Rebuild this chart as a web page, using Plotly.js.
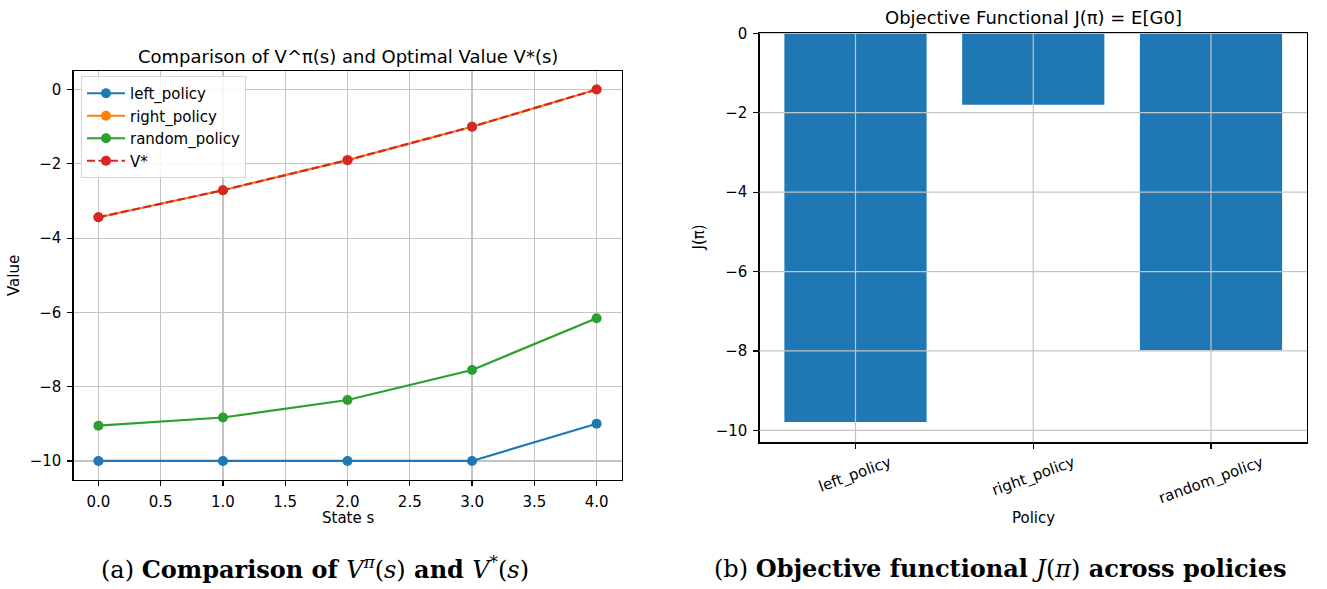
<!DOCTYPE html>
<html>
<head>
<meta charset="utf-8">
<script src="https://cdn.plot.ly/plotly-3.0.1.min.js"></script>
<style>html,body{margin:0;padding:0;background:#fff;}#chart{width:1327px;height:589px;}</style>
</head>
<body>
<div id="chart"></div>
<script>
// ---- data ----
const states = [0, 1, 2, 3, 4];
const leftPolicy = [-10, -10, -10, -10, -9];
const rightPolicy = [-3.439, -2.71, -1.9, -1.0, 0.0];
const randomPolicy = [-9.05, -8.83, -8.36, -7.55, -6.16];
const vStar = [-3.439, -2.71, -1.9, -1.0, 0.0];
const policies = ['left_policy', 'right_policy', 'random_policy'];
const jValues = [-9.79, -1.80, -7.98];
const xTicksLeft = [0, 0.5, 1, 1.5, 2, 2.5, 3, 3.5, 4];
const yTicksLeft = [-10, -8, -6, -4, -2, 0];
const yTicksRight = [-10, -8, -6, -4, -2, 0];

// ---- helpers ----
const W = 1327, H = 589;
const px = v => v / W;
const py = v => 1 - v / H;
const FONT = 'DejaVu Sans';
const base = {family: FONT, size: 15, color: '#000'};
const GRID = '#c4c4c4';

function lineTrace(y, name, color, dash) {
  return {
    x: states, y: y, name: name, type: 'scatter', mode: 'lines+markers',
    xaxis: 'x', yaxis: 'y',
    line: {color: color, width: 2.2, dash: dash || 'solid'},
    marker: {color: color, size: 10, line: {width: 0}}
  };
}

const traces = [
  lineTrace(leftPolicy, 'left_policy', '#1f77b4'),
  lineTrace(rightPolicy, 'right_policy', '#ff7f0e'),
  lineTrace(randomPolicy, 'random_policy', '#2ca02c'),
  lineTrace(vStar, 'V*', '#d62728', '8px,3.5px'),
  {
    x: policies, y: jValues, type: 'bar', xaxis: 'x2', yaxis: 'y2',
    width: 0.8, marker: {color: '#1f77b4', line: {width: 0}}, showlegend: false
  }
];

const axCommon = {
  showline: true, linecolor: '#000', linewidth: 1.2, mirror: true,
  ticks: 'outside', ticklen: 5, tickwidth: 1.2, tickcolor: '#000',
  zeroline: false, tickfont: base, automargin: false, fixedrange: true
};

const shapes = [];
yTicksRight.forEach(v => shapes.push({
  type: 'line', xref: 'x2 domain', yref: 'y2', x0: 0, x1: 1, y0: v, y1: v,
  line: {color: GRID, width: 1.2}, layer: 'above'
}));
policies.forEach(p => shapes.push({
  type: 'line', xref: 'x2', yref: 'y2 domain', x0: p, x1: p, y0: 0, y1: 1,
  line: {color: GRID, width: 1.2}, layer: 'above'
}));

const annotations = [
  {text: 'Comparison of V^π(s) and Optimal Value V*(s)', x: px(347.5), y: py(56)},
  {text: 'Objective Functional J(π) = E[G0]', x: px(1033), y: py(17)},
].map(a => Object.assign({xref: 'paper', yref: 'paper', showarrow: false, xanchor: 'center', yanchor: 'middle', font: {family: FONT, size: 18, color: '#000'}}, a));

[
  {text: 'State s', x: px(347.5), y: py(518)},
  {text: 'Value', x: px(14), y: py(275), textangle: -90},
  {text: 'Policy', x: px(1033), y: py(518)},
  {text: 'J(π)', x: px(698.5), y: py(238), textangle: -90}
].forEach(a => annotations.push(Object.assign({xref: 'paper', yref: 'paper', showarrow: false, xanchor: 'center', yanchor: 'middle', font: base}, a)));

policies.forEach(p => annotations.push({
  text: p, xref: 'x2', yref: 'paper', x: p, y: py(451), xanchor: 'center', yanchor: 'top',
  textangle: -20, showarrow: false, font: base, borderpad: 0
}));

const capFont = {family: 'DejaVu Serif', size: 24, color: '#000'};
annotations.push({
  text: '(a) <b>Comparison of </b><i>V</i><sup><i>π</i></sup>(<i>s</i>)<b> and </b><i>V</i><sup>*</sup>(<i>s</i>)',
  xref: 'paper', yref: 'paper', x: px(315), y: py(568), xanchor: 'center', yanchor: 'middle',
  showarrow: false, font: capFont
});
annotations.push({
  text: '(b) <b>Objective functional </b><i>J</i>(<i>π</i>)<b> across policies</b>',
  xref: 'paper', yref: 'paper', x: px(1000), y: py(568), xanchor: 'center', yanchor: 'middle',
  showarrow: false, font: capFont
});

const layout = {
  width: W, height: H,
  margin: {l: 0, r: 0, t: 0, b: 0, pad: 0},
  paper_bgcolor: '#fff', plot_bgcolor: '#fff',
  font: base,
  showlegend: true,
  legend: {
    x: px(81), y: py(76), xanchor: 'left', yanchor: 'top',
    bgcolor: 'rgba(255,255,255,0.85)', bordercolor: '#d6d6d6', borderwidth: 1,
    font: base, traceorder: 'normal', itemwidth: 38
  },
  xaxis: Object.assign({}, axCommon, {
    domain: [px(73.5), px(621.5)], range: [-0.2, 4.2], anchor: 'y',
    tickmode: 'array', tickvals: xTicksLeft, tickformat: '.1f',
    showgrid: true, gridcolor: GRID, gridwidth: 1.2, ticklabelstandoff: 3
  }),
  yaxis: Object.assign({}, axCommon, {
    domain: [py(479.5), py(71)], range: [-10.5, 0.5], anchor: 'x',
    tickmode: 'array', tickvals: yTicksLeft,
    showgrid: true, gridcolor: GRID, gridwidth: 1.2, ticklabelstandoff: 3
  }),
  xaxis2: Object.assign({}, axCommon, {
    domain: [px(759.5), px(1307)], range: [-0.54, 2.54], anchor: 'y2',
    type: 'category', showticklabels: false, showgrid: false
  }),
  yaxis2: Object.assign({}, axCommon, {
    domain: [py(442.3), py(33.3)], range: [-10.3, 0], anchor: 'x2',
    tickmode: 'array', tickvals: yTicksRight, showgrid: false, ticklabelstandoff: 3
  }),
  shapes: shapes,
  annotations: annotations
};

Plotly.newPlot('chart', traces, layout, {displayModeBar: false, staticPlot: true});
</script>
</body>
</html>
